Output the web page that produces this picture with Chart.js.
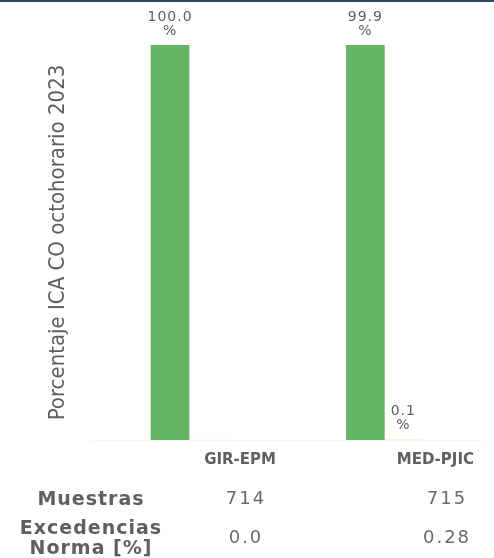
<!DOCTYPE html>
<html>
<head>
<meta charset="utf-8">
<script src="https://cdn.jsdelivr.net/npm/chart.js@4"></script>
<style>
  html, body { margin: 0; padding: 0; background: #fff; }
  body { width: 494px; height: 558px; position: relative; overflow: hidden; }
  .topline { position: absolute; left: 0; top: 0; width: 494px; height: 2px; background: #2f4b68; }
  #wrap { position: absolute; left: 0; top: 0; width: 494px; height: 558px; }
  .cell { position: absolute; color: #5f5f5f; font-family: "DejaVu Sans", sans-serif; white-space: nowrap; }
  .head { font-weight: bold; font-size: 19px; text-align: center; line-height: 20px; letter-spacing: 1px; transform: translateX(-50%); }
  .val { font-size: 18px; transform: translateX(-50%); letter-spacing: 2px; color: #6a6a6a; line-height: 20px; }
</style>
</head>
<body>
<div class="topline"></div>
<div id="wrap"><canvas id="c" width="494" height="558"></canvas></div>
<div id="table"></div>
<script>
const categories = ['GIR-EPM', 'MED-PJIC'];
const seriesNames = ['Buena', 'Aceptable'];
const buena = [100.0, 99.9];
const aceptable = [0.0, 0.1];
const rowLabels = ['Muestras', 'Excedencias\nNorma [%]'];
const muestras = ['714', '715'];
const excedencias = ['0.0', '0.28'];

const GREY = '#5f5f5f';

// value labels over bars, "xx.x" then "%" on second line
const valueLabels = {
  id: 'valueLabels',
  afterDatasetsDraw(chart) {
    const { ctx } = chart;
    ctx.save();
    ctx.fillStyle = GREY;
    ctx.font = '14px "DejaVu Sans", sans-serif';
    ctx.letterSpacing = '1px';
    ctx.textAlign = 'center';
    ctx.textBaseline = 'middle';
    chart.data.datasets.forEach((ds, i) => {
      chart.getDatasetMeta(i).data.forEach((bar, j) => {
        const v = ds.data[j];
        if (!v) return;
        ctx.fillText('%', bar.x, bar.y - 14);
        ctx.fillText(v.toFixed(1), bar.x, bar.y - 28);
      });
    });
    ctx.restore();
  }
};

new Chart(document.getElementById('c').getContext('2d'), {
  type: 'bar',
  data: {
    labels: categories,
    datasets: [
      { label: seriesNames[0], data: buena, backgroundColor: '#66b466', barThickness: 38 },
      { label: seriesNames[1], data: aceptable, backgroundColor: '#f7f7c0', barThickness: 38 },
    ],
  },
  options: {
    responsive: false,
    animation: false,
    layout: { padding: { top: 45, right: 12, bottom: 86, left: 41 } },
    plugins: { legend: { display: false }, tooltip: { enabled: false } },
    scales: {
      x: {
        grid: { display: false },
        border: { display: true, color: '#f5f5f5' },
        ticks: {
          color: GREY,
          font: { family: 'DejaVu Sans', size: 15, weight: 'bold' },
          padding: 3,
          labelOffset: 51,
        },
      },
      y: {
        min: 0,
        max: 100,
        grid: { display: false },
        border: { display: false },
        ticks: { display: false },
        title: {
          display: true,
          text: 'Porcentaje ICA CO octohorario 2023',
          color: GREY,
          font: { family: 'DejaVu Sans Condensed', size: 22 },
          padding: { top: 4, bottom: 12 },
        },
      },
    },
  },
  plugins: [valueLabels],
});

// summary table under the chart
const table = document.getElementById('table');
const colX = [246, 447];
const rows = [
  { label: rowLabels[0], vals: muestras, top: 488, labelTop: 488 },
  { label: rowLabels[1], vals: excedencias, top: 527, labelTop: 517 },
];
rows.forEach((r) => {
  const h = document.createElement('div');
  h.className = 'cell head';
  h.style.left = '91px';
  h.style.top = r.labelTop + 'px';
  h.innerHTML = r.label.split('\n').join('<br>');
  table.appendChild(h);
  r.vals.forEach((v, i) => {
    const d = document.createElement('div');
    d.className = 'cell val';
    d.style.left = colX[i] + 'px';
    d.style.top = r.top + 'px';
    d.textContent = v;
    table.appendChild(d);
  });
});
</script>
</body>
</html>
